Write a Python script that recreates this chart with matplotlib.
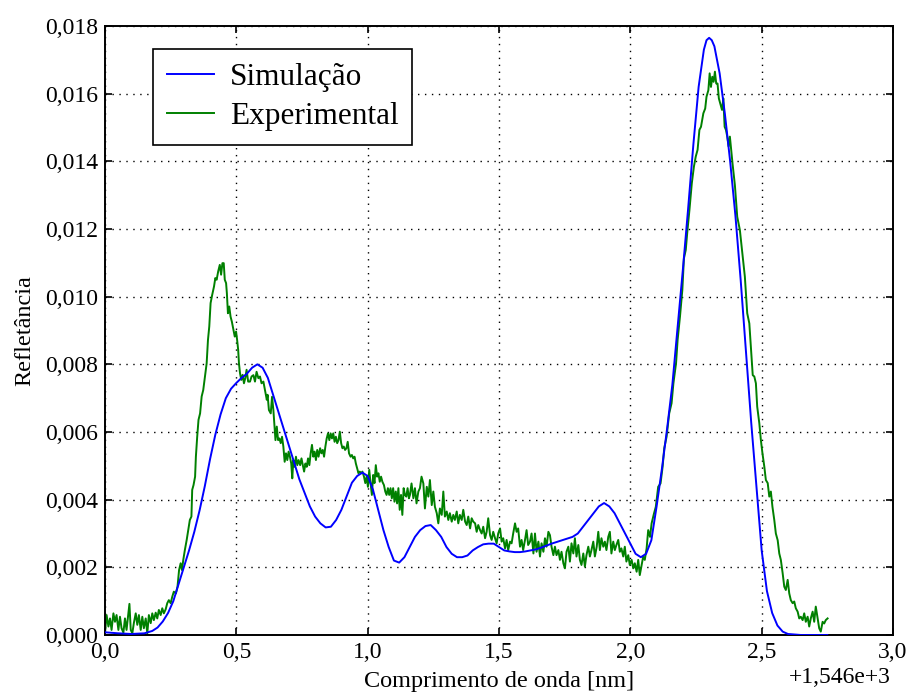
import matplotlib
matplotlib.use("Agg")
import matplotlib.pyplot as plt
from matplotlib.ticker import FuncFormatter

# wavelength offset (nm) relative to 1546 nm
WL0 = 1546.0

sim_x = [0.00, 0.05, 0.10, 0.15, 0.18, 0.20, 0.22, 0.24, 0.26, 0.28, 0.30, 0.32, 0.34, 0.36,
         0.38, 0.40, 0.42, 0.44, 0.46, 0.48, 0.50, 0.52, 0.54, 0.56, 0.58, 0.60, 0.62, 0.64,
         0.66, 0.68, 0.70, 0.72, 0.74, 0.76, 0.78, 0.80, 0.82, 0.84, 0.86, 0.88, 0.90, 0.92,
         0.94, 0.96, 0.98, 1.00, 1.02, 1.04, 1.06, 1.08, 1.10, 1.12, 1.14, 1.16, 1.18, 1.20,
         1.22, 1.24, 1.26, 1.28, 1.30, 1.32, 1.34, 1.36, 1.38, 1.40, 1.42, 1.44, 1.46, 1.48,
         1.50, 1.52, 1.54, 1.56, 1.58, 1.60, 1.62, 1.64, 1.66, 1.68, 1.70, 1.72, 1.74, 1.76,
         1.78, 1.80, 1.82, 1.84, 1.86, 1.88, 1.90, 1.92, 1.94, 1.96, 1.98, 2.00, 2.02, 2.04,
         2.06, 2.08, 2.10, 2.12, 2.14, 2.16, 2.18, 2.20, 2.22, 2.24, 2.26, 2.28, 2.29, 2.30,
         2.31, 2.32, 2.34, 2.36, 2.38, 2.40, 2.42, 2.44, 2.46, 2.48, 2.50, 2.52, 2.54, 2.56,
         2.58, 2.60, 2.65, 2.70, 2.75]
sim_y = [0.00008, 0.00005, 0.00003, 0.00005, 0.00012, 0.00022, 0.00040, 0.00065, 0.00100,
         0.00150, 0.00200, 0.00250, 0.00305, 0.00368, 0.00440, 0.00520, 0.00592, 0.00652,
         0.00700, 0.00728, 0.00745, 0.00760, 0.00772, 0.00790, 0.00800, 0.00790, 0.00760,
         0.00710, 0.00660, 0.00610, 0.00560, 0.00510, 0.00460, 0.00420, 0.00380, 0.00350,
         0.00330, 0.00318, 0.00320, 0.00340, 0.00370, 0.00410, 0.00450, 0.00470, 0.00480,
         0.00470, 0.00430, 0.00370, 0.00310, 0.00260, 0.00220, 0.00214, 0.00230, 0.00260,
         0.00290, 0.00310, 0.00322, 0.00325, 0.00310, 0.00290, 0.00260, 0.00240, 0.00230,
         0.00230, 0.00235, 0.00250, 0.00260, 0.00268, 0.00270, 0.00270, 0.00260, 0.00250,
         0.00247, 0.00245, 0.00245, 0.00247, 0.00250, 0.00253, 0.00258, 0.00264, 0.00270,
         0.00275, 0.00280, 0.00285, 0.00290, 0.00300, 0.00320, 0.00340, 0.00360, 0.00380,
         0.00390, 0.00380, 0.00360, 0.00330, 0.00300, 0.00270, 0.00240, 0.00230, 0.00240,
         0.00280, 0.00380, 0.00490, 0.00610, 0.00740, 0.00910, 0.01080, 0.01260, 0.01450,
         0.01620, 0.01730, 0.01758, 0.01765, 0.01758, 0.01740, 0.01660, 0.01540, 0.01400,
         0.01240, 0.01050, 0.00840, 0.00630, 0.00440, 0.00250, 0.00130, 0.00065, 0.00028,
         0.00010, 0.00003, 0.00000, 0.00000, 0.00000]

exp_x = [0.000, 0.006, 0.013, 0.019, 0.025, 0.032, 0.038, 0.044, 0.051, 0.057, 0.063, 0.070,
         0.076, 0.082, 0.093, 0.098, 0.104, 0.110, 0.117, 0.123, 0.129, 0.136, 0.142, 0.148,
         0.155, 0.161, 0.167, 0.174, 0.180, 0.186, 0.193, 0.199, 0.205, 0.212, 0.218, 0.224,
         0.231, 0.237, 0.243, 0.250, 0.256, 0.262, 0.270, 0.276, 0.282, 0.288, 0.293, 0.298,
         0.304, 0.311, 0.317, 0.323, 0.329, 0.332, 0.337, 0.343, 0.346, 0.351, 0.356, 0.362,
         0.368, 0.374, 0.382, 0.387, 0.392, 0.397, 0.402, 0.408, 0.415, 0.420, 0.425, 0.431,
         0.437, 0.442, 0.447, 0.452, 0.456, 0.461, 0.464, 0.468, 0.473, 0.478, 0.483, 0.489,
         0.494, 0.499, 0.503, 0.507, 0.510, 0.514, 0.519, 0.524, 0.529, 0.534, 0.539, 0.545,
         0.552, 0.558, 0.565, 0.571, 0.577, 0.584, 0.590, 0.596, 0.603, 0.609, 0.616, 0.619,
         0.624, 0.631, 0.636, 0.641, 0.645, 0.649, 0.654, 0.659, 0.664, 0.669, 0.674, 0.679,
         0.684, 0.689, 0.694, 0.699, 0.704, 0.709, 0.713, 0.717, 0.722, 0.727, 0.732, 0.737,
         0.743, 0.748, 0.753, 0.758, 0.763, 0.768, 0.773, 0.778, 0.783, 0.788, 0.793, 0.798,
         0.803, 0.808, 0.813, 0.819, 0.824, 0.829, 0.834, 0.839, 0.844, 0.849, 0.854, 0.859,
         0.864, 0.869, 0.874, 0.879, 0.884, 0.889, 0.894, 0.899, 0.904, 0.909, 0.914, 0.919,
         0.924, 0.929, 0.935, 0.940, 0.945, 0.950, 0.955, 0.960, 0.965, 0.970, 0.975, 0.980,
         0.986, 0.991, 0.996, 1.001, 1.006, 1.011, 1.016, 1.021, 1.026, 1.031, 1.036, 1.041,
         1.046, 1.051, 1.056, 1.062, 1.067, 1.072, 1.077, 1.082, 1.087, 1.092, 1.097, 1.102,
         1.107, 1.112, 1.117, 1.122, 1.127, 1.132, 1.137, 1.142, 1.147, 1.152, 1.157, 1.161,
         1.167, 1.174, 1.180, 1.186, 1.193, 1.199, 1.205, 1.212, 1.218, 1.225, 1.231, 1.237,
         1.244, 1.250, 1.256, 1.263, 1.269, 1.275, 1.282, 1.288, 1.294, 1.301, 1.307, 1.313,
         1.320, 1.326, 1.332, 1.339, 1.345, 1.351, 1.358, 1.364, 1.371, 1.377, 1.383, 1.390,
         1.396, 1.402, 1.409, 1.415, 1.421, 1.428, 1.434, 1.440, 1.447, 1.453, 1.459, 1.466,
         1.472, 1.478, 1.485, 1.491, 1.497, 1.504, 1.510, 1.516, 1.523, 1.529, 1.535, 1.542,
         1.548, 1.554, 1.561, 1.567, 1.573, 1.580, 1.586, 1.592, 1.599, 1.605, 1.611, 1.618,
         1.624, 1.631, 1.637, 1.643, 1.650, 1.656, 1.662, 1.669, 1.675, 1.681, 1.688, 1.694,
         1.700, 1.707, 1.713, 1.719, 1.726, 1.732, 1.738, 1.745, 1.751, 1.757, 1.764, 1.770,
         1.776, 1.783, 1.789, 1.795, 1.802, 1.808, 1.814, 1.821, 1.827, 1.833, 1.840, 1.846,
         1.852, 1.859, 1.865, 1.872, 1.878, 1.884, 1.890, 1.897, 1.903, 1.909, 1.916, 1.922,
         1.928, 1.935, 1.941, 1.947, 1.954, 1.960, 1.966, 1.973, 1.979, 1.985, 1.992, 1.998,
         2.005, 2.011, 2.017, 2.024, 2.030, 2.036, 2.043, 2.049, 2.055, 2.062, 2.068, 2.075,
         2.081, 2.090, 2.097, 2.106, 2.115, 2.123, 2.129, 2.138, 2.148, 2.157, 2.164, 2.174,
         2.180, 2.189, 2.198, 2.204, 2.211, 2.217, 2.225, 2.234, 2.242, 2.249, 2.256, 2.263,
         2.269, 2.278, 2.285, 2.290, 2.297, 2.302, 2.307, 2.312, 2.317, 2.322, 2.327, 2.332,
         2.337, 2.344, 2.349, 2.354, 2.359, 2.364, 2.369, 2.374, 2.379, 2.389, 2.398, 2.407,
         2.417, 2.426, 2.436, 2.445, 2.453, 2.459, 2.466, 2.472, 2.478, 2.483, 2.491, 2.497,
         2.503, 2.510, 2.516, 2.523, 2.529, 2.535, 2.541, 2.548, 2.554, 2.561, 2.567, 2.573,
         2.580, 2.586, 2.592, 2.599, 2.605, 2.611, 2.618, 2.624, 2.630, 2.637, 2.643, 2.649,
         2.656, 2.662, 2.668, 2.675, 2.681, 2.687, 2.694, 2.700, 2.706, 2.713, 2.719, 2.725,
         2.732, 2.738, 2.744, 2.751]
exp_y = [0.00005, 0.00059, 0.00025, 0.00049, 0.00015, 0.00064, 0.00039, 0.00059, 0.00015,
         0.00054, 0.00020, 0.00007, 0.00049, 0.00015, 0.00092, 0.00015, 0.00005, 0.00036,
         0.00064, 0.00030, 0.00059, 0.00015, 0.00054, 0.00020, 0.00049, 0.00005, 0.00059,
         0.00035, 0.00064, 0.00044, 0.00066, 0.00049, 0.00074, 0.00059, 0.00079, 0.00064,
         0.00076, 0.00094, 0.00103, 0.00094, 0.00113, 0.00128, 0.00123, 0.00143, 0.00192,
         0.00212, 0.00192, 0.00222, 0.00251, 0.00281, 0.00310, 0.00340, 0.00350, 0.00429,
         0.00443, 0.00468, 0.00527, 0.00586, 0.00636, 0.00655, 0.00705, 0.00724, 0.00774,
         0.00803, 0.00872, 0.00912, 0.00981, 0.01005, 0.01030, 0.01055, 0.01050, 0.01075,
         0.01094, 0.01065, 0.01099, 0.01099, 0.01050, 0.01040, 0.01010, 0.00951, 0.00971,
         0.00941, 0.00926, 0.00902, 0.00882, 0.00897, 0.00872, 0.00843, 0.00803, 0.00774,
         0.00754, 0.00769, 0.00744, 0.00759, 0.00784, 0.00749,
         0.00749, 0.00764, 0.00768, 0.00749, 0.00778, 0.00759, 0.00764, 0.00744, 0.00749,
         0.00724, 0.00695, 0.00710, 0.00665, 0.00655, 0.00704, 0.00665, 0.00621, 0.00576,
         0.00616, 0.00576, 0.00581, 0.00567, 0.00586, 0.00557, 0.00512, 0.00537, 0.00517,
         0.00542, 0.00527, 0.00507, 0.00463, 0.00517, 0.00497, 0.00527, 0.00502, 0.00517,
         0.00502, 0.00522, 0.00502, 0.00483, 0.00507, 0.00497, 0.00522, 0.00502, 0.00537,
         0.00562, 0.00527, 0.00542, 0.00517, 0.00547, 0.00527, 0.00552, 0.00537, 0.00547,
         0.00527, 0.00557, 0.00581, 0.00596, 0.00576, 0.00596, 0.00581, 0.00596, 0.00571,
         0.00586, 0.00567, 0.00576, 0.00601, 0.00567, 0.00552, 0.00557, 0.00547, 0.00552,
         0.00571, 0.00537, 0.00527, 0.00532, 0.00522, 0.00527, 0.00507, 0.00493, 0.00478,
         0.00483, 0.00478, 0.00483, 0.00468, 0.00449, 0.00468, 0.00438, 0.00488, 0.00449,
         0.00414, 0.00473, 0.00449, 0.00502, 0.00468, 0.00478, 0.00453, 0.00468, 0.00453,
         0.00443, 0.00424, 0.00414, 0.00434, 0.00414, 0.00434, 0.00404, 0.00434, 0.00394,
         0.00424, 0.00389, 0.00434, 0.00370, 0.00414, 0.00355, 0.00434, 0.00414, 0.00409,
         0.00434, 0.00404,
         0.00414, 0.00448, 0.00404, 0.00434, 0.00389, 0.00424, 0.00434, 0.00468, 0.00448,
         0.00374, 0.00438, 0.00409, 0.00458, 0.00384, 0.00424, 0.00379, 0.00360, 0.00330,
         0.00374, 0.00355, 0.00424, 0.00350, 0.00365, 0.00340, 0.00360, 0.00335, 0.00355,
         0.00340, 0.00365, 0.00330, 0.00355, 0.00340, 0.00370, 0.00335, 0.00325, 0.00350,
         0.00315, 0.00345, 0.00335, 0.00330, 0.00305, 0.00325, 0.00310, 0.00300, 0.00320,
         0.00286, 0.00305, 0.00345, 0.00295, 0.00281, 0.00305, 0.00286, 0.00271, 0.00300,
         0.00315, 0.00276, 0.00286, 0.00256, 0.00281, 0.00251, 0.00276, 0.00271, 0.00300,
         0.00330, 0.00305, 0.00315, 0.00261, 0.00281, 0.00251, 0.00281, 0.00310, 0.00266,
         0.00276, 0.00300, 0.00241, 0.00300, 0.00246, 0.00276, 0.00232, 0.00271, 0.00246,
         0.00286, 0.00261, 0.00305, 0.00295, 0.00261, 0.00236, 0.00261, 0.00236, 0.00251,
         0.00222, 0.00246, 0.00212, 0.00197, 0.00246, 0.00261, 0.00217, 0.00271, 0.00241,
         0.00286, 0.00232, 0.00266, 0.00222, 0.00207, 0.00241, 0.00202, 0.00236, 0.00261,
         0.00232, 0.00251, 0.00276, 0.00232, 0.00261, 0.00305, 0.00251, 0.00286, 0.00261,
         0.00276, 0.00251, 0.00290, 0.00305, 0.00241, 0.00276, 0.00251, 0.00266, 0.00281,
         0.00246, 0.00256, 0.00232, 0.00261, 0.00217, 0.00236, 0.00207, 0.00222, 0.00197,
         0.00212, 0.00187, 0.00222, 0.00177, 0.00207, 0.00232, 0.00222, 0.00256, 0.00310,
         0.00290, 0.00330, 0.00359, 0.00379, 0.00438, 0.00448, 0.00498, 0.00552, 0.00586,
         0.00655, 0.00685, 0.00744, 0.00803, 0.00872, 0.00941, 0.01020, 0.01113, 0.01138,
         0.01192, 0.01256, 0.01335, 0.01384, 0.01414, 0.01434, 0.01493, 0.01502, 0.01542,
         0.01556, 0.01591, 0.01610, 0.01660, 0.01620, 0.01650, 0.01635, 0.01665, 0.01630,
         0.01630, 0.01586, 0.01566, 0.01552, 0.01586, 0.01502, 0.01493, 0.01473, 0.01444,
         0.01473, 0.01394, 0.01330, 0.01236, 0.01197, 0.01133, 0.01059, 0.00951, 0.00921,
         0.00852, 0.00768, 0.00764, 0.00744, 0.00675, 0.00626, 0.00576, 0.00537, 0.00498,
         0.00458, 0.00449, 0.00409, 0.00424, 0.00379, 0.00340, 0.00300, 0.00280, 0.00241,
         0.00222, 0.00182, 0.00143, 0.00133, 0.00163, 0.00123, 0.00103, 0.00094, 0.00099,
         0.00079, 0.00069, 0.00049, 0.00054, 0.00044, 0.00064, 0.00039, 0.00054, 0.00025,
         0.00049, 0.00069, 0.00039, 0.00084, 0.00049, 0.00020, 0.00010, 0.00039, 0.00034,
         0.00044, 0.00049]

x_ticks = [0.0, 0.5, 1.0, 1.5, 2.0, 2.5, 3.0]
y_ticks = [0.000, 0.002, 0.004, 0.006, 0.008, 0.010, 0.012, 0.014, 0.016, 0.018]

plt.rcParams['font.family'] = ['Liberation Serif', 'DejaVu Serif']

fig = plt.figure(figsize=(9.12, 6.98), dpi=100)
ax = fig.add_axes([105/912, 1 - 635/698, (893-105)/912, (635-26)/698])

ax.plot(sim_x, sim_y, color='#0000ff', lw=1.4, label='Simulação', zorder=3)
ax.plot(exp_x, exp_y, color='#008000', lw=1.4, label='Experimental', zorder=2)

ax.set_xlim(0, 3.0)
ax.set_ylim(0, 0.018)
ax.set_xticks(x_ticks)
ax.set_yticks(y_ticks)
ax.xaxis.set_major_formatter(FuncFormatter(lambda v, p: f"{v:.1f}".replace('.', ',')))
ax.yaxis.set_major_formatter(FuncFormatter(lambda v, p: f"{v:.3f}".replace('.', ',')))
ax.tick_params(direction='in', top=True, right=True, length=5, width=1.2,
               labelsize=17)
ax.tick_params(axis='x', pad=5)
ax.tick_params(axis='y', pad=5)
ax.grid(True, color='k', linestyle=(0, (1, 4)), linewidth=1.0)
for s in ax.spines.values():
    s.set_linewidth(1.4)

ax.set_xlabel('Comprimento de onda [nm]', fontsize=17.5, labelpad=6)
ax.set_ylabel('Refletância', fontsize=17.5, labelpad=7)
ax.text(0.997, -0.07, '+1,546e+3', transform=ax.transAxes, ha='right', va='center',
        fontsize=17)

leg = ax.legend(loc='upper left', bbox_to_anchor=(0.061, 0.962), borderaxespad=0,
                fontsize=22.5, fancybox=False, framealpha=1, edgecolor='k',
                handlelength=1.5, borderpad=0.45, labelspacing=0.3, handletextpad=0.5)
leg.get_frame().set_linewidth(1.2)

fig.savefig('out.png', dpi=100)
